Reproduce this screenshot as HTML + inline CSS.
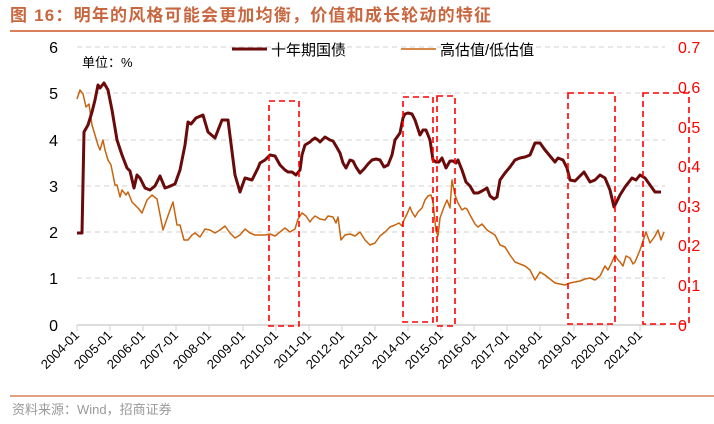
<!DOCTYPE html>
<html><head><meta charset="utf-8"><style>
html,body{margin:0;padding:0;background:#fff;}
svg{display:block;font-family:"Liberation Sans","Noto Sans CJK SC",sans-serif;}
</style></head><body>
<svg width="714" height="424" viewBox="0 0 714 424" xmlns="http://www.w3.org/2000/svg">
<text x="10" y="21" font-size="17" font-weight="bold" letter-spacing="1.2" fill="#C8673F">图 16：明年的风格可能会更加均衡，价值和成长轮动的特征</text>
<line x1="10" y1="31" x2="714" y2="31" stroke="#D9805A" stroke-width="2"/>
<g stroke="#d0d0d0" stroke-width="1" stroke-dasharray="5,4">
<line x1="77" y1="47" x2="665" y2="47"/><line x1="77" y1="93" x2="665" y2="93"/><line x1="77" y1="140" x2="665" y2="140"/><line x1="77" y1="186" x2="665" y2="186"/><line x1="77" y1="232" x2="665" y2="232"/><line x1="77" y1="278" x2="665" y2="278"/>
</g>
<line x1="77" y1="325" x2="665" y2="325" stroke="#d0d0d0" stroke-width="1.5"/>
<g stroke="#d0d0d0" stroke-width="1">
<line x1="77" y1="325" x2="77" y2="331"/><line x1="110" y1="325" x2="110" y2="331"/><line x1="143" y1="325" x2="143" y2="331"/><line x1="176" y1="325" x2="176" y2="331"/><line x1="209" y1="325" x2="209" y2="331"/><line x1="243" y1="325" x2="243" y2="331"/><line x1="276" y1="325" x2="276" y2="331"/><line x1="309" y1="325" x2="309" y2="331"/><line x1="342" y1="325" x2="342" y2="331"/><line x1="375" y1="325" x2="375" y2="331"/><line x1="408" y1="325" x2="408" y2="331"/><line x1="441" y1="325" x2="441" y2="331"/><line x1="474" y1="325" x2="474" y2="331"/><line x1="507" y1="325" x2="507" y2="331"/><line x1="540" y1="325" x2="540" y2="331"/><line x1="574" y1="325" x2="574" y2="331"/><line x1="607" y1="325" x2="607" y2="331"/><line x1="640" y1="325" x2="640" y2="331"/>
</g>
<g font-size="16" fill="#000" text-anchor="end">
<text x="58" y="53">6</text><text x="58" y="99">5</text><text x="58" y="146">4</text><text x="58" y="192">3</text><text x="58" y="238">2</text><text x="58" y="284">1</text><text x="58" y="331">0</text>
</g>
<g font-size="16" fill="#ff0000">
<text x="678" y="53">0.7</text><text x="678" y="93">0.6</text><text x="678" y="133">0.5</text><text x="678" y="172">0.4</text><text x="678" y="212">0.3</text><text x="678" y="251">0.2</text><text x="678" y="291">0.1</text><text x="678" y="331">0</text>
</g>
<g font-size="13" fill="#000" text-anchor="end">
<text transform="translate(80,336) rotate(-45)">2004-01</text><text transform="translate(113,336) rotate(-45)">2005-01</text><text transform="translate(146,336) rotate(-45)">2006-01</text><text transform="translate(179,336) rotate(-45)">2007-01</text><text transform="translate(212,336) rotate(-45)">2008-01</text><text transform="translate(246,336) rotate(-45)">2009-01</text><text transform="translate(279,336) rotate(-45)">2010-01</text><text transform="translate(312,336) rotate(-45)">2011-01</text><text transform="translate(345,336) rotate(-45)">2012-01</text><text transform="translate(378,336) rotate(-45)">2013-01</text><text transform="translate(411,336) rotate(-45)">2014-01</text><text transform="translate(444,336) rotate(-45)">2015-01</text><text transform="translate(477,336) rotate(-45)">2016-01</text><text transform="translate(510,336) rotate(-45)">2017-01</text><text transform="translate(543,336) rotate(-45)">2018-01</text><text transform="translate(577,336) rotate(-45)">2019-01</text><text transform="translate(610,336) rotate(-45)">2020-01</text><text transform="translate(643,336) rotate(-45)">2021-01</text>
</g>
<text x="82" y="67" font-size="13" fill="#000">单位：%</text>
<line x1="232" y1="49" x2="267" y2="49" stroke="#6B0A0A" stroke-width="3"/>
<text x="271" y="55" font-size="15" fill="#000">十年期国债</text>
<line x1="401" y1="49" x2="436" y2="49" stroke="#C8640F" stroke-width="1.6"/>
<text x="440" y="55" font-size="15" fill="#000">高估值/低估值</text>
<polyline fill="none" stroke="#C8640F" stroke-width="1.5" stroke-linejoin="round" points="77,99 80,90 83,94 86,107 89,104 92,125 95,135 98,145 100,150 103,140 105,150 108,160 111,165 115,185 117,185 120,197 122,190 126,195 128,192 132,202 138,208 142,213 147,200 152,195 157,199 163,230 170,210 173,202 177,225 180,225 184,240 188,240 192,235 195,233 200,237 205,229 210,230 215,233 220,230 225,226 230,233 235,238 240,235 245,229 250,233 255,235 260,235 265,235 270,234 275,236 280,232 285,228 290,232 295,229 298,219 302,213 306,216 310,222 312,219 315,216 320,219 325,220 328,216 333,217 336,223 338,217 341,240 345,235 350,234 355,236 360,232 365,240 370,245 375,243 380,236 385,232 390,227 395,225 399,223 402,226 404,220 407,214 410,207 412,212 415,217 418,212 422,208 425,200 428,196 431,195 433,202 436,231 438,236 440,218 444,207 447,200 450,208 452,180 455,195 458,203 462,210 465,208 467,209 470,215 475,224 478,227 482,224 487,230 490,232 495,235 500,245 505,247 510,255 515,262 520,264 525,266 530,270 535,280 540,272 545,275 550,279 555,283 560,284 565,285 570,283 575,282 580,281 585,279 590,278 595,280 600,276 605,266 608,270 612,262 615,255 618,260 620,262 623,266 626,256 630,258 633,264 635,262 640,250 646,232 650,243 655,236 658,230 661,240 664,232"/>
<polyline fill="none" stroke="#6B0A0A" stroke-width="3" stroke-linejoin="round" points="77,233 82,233 84,132 88,125 92,112 95,100 98,85 100,88 104,83 108,90 112,110 117,140 122,155 127,168 130,171 134,188 137,175 140,178 145,188 150,190 155,186 160,176 165,188 168,187 175,184 180,170 185,145 188,122 191,124 196,118 203,115 208,132 215,138 222,120 228,120 235,175 240,192 245,178 252,180 258,168 260,163 265,160 270,155 275,156 280,165 285,170 288,172 292,172 296,175 300,170 302,155 305,145 310,142 312,140 315,138 318,140 320,142 325,137 330,140 333,141 336,146 340,153 343,163 346,168 350,160 353,161 356,167 360,173 364,169 368,164 372,160 376,159 380,160 384,167 388,165 392,155 395,140 400,133 403,118 405,114 408,113 412,114 415,120 420,135 423,130 426,130 430,140 433,160 436,162 439,162 442,158 446,168 450,161 453,161 456,163 458,160 462,170 466,182 470,186 474,193 478,193 482,191 487,188 490,196 494,199 497,197 500,180 505,173 510,167 515,160 520,158 525,157 530,155 535,143 540,143 545,150 550,156 555,162 558,158 563,160 567,168 570,180 575,181 580,176 584,172 590,182 595,180 600,175 605,178 610,190 614,207 620,195 625,187 632,178 636,180 640,175 645,178 650,185 655,192 661,192"/>
<g fill="none" stroke="#ff0000" stroke-width="1.6" stroke-dasharray="6,4">
<rect x="269" y="101" width="30" height="225"/>
<rect x="403" y="97" width="30" height="225"/>
<rect x="437" y="96" width="18" height="230"/>
<rect x="568" y="93" width="47" height="231"/>
<rect x="643" y="93" width="46" height="231"/>
</g>
<line x1="10" y1="396" x2="714" y2="396" stroke="#D9805A" stroke-width="1.5"/>
<text x="12" y="414" font-size="13" fill="#999">资料来源：Wind，招商证券</text>
</svg>
</body></html>
